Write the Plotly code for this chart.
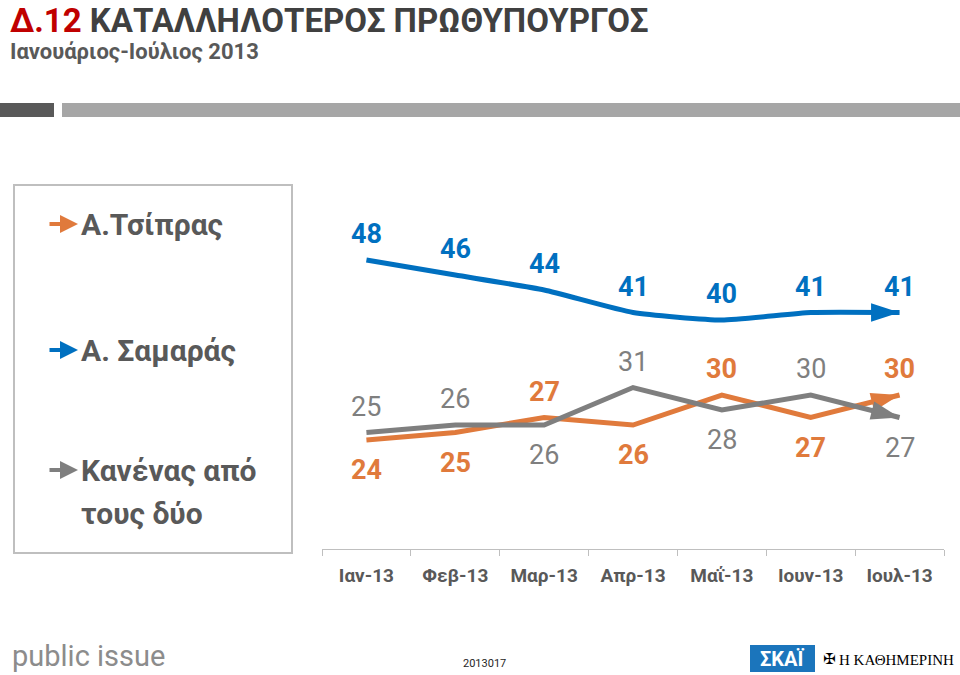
import plotly.graph_objects as go

# ---------------- data ----------------
months = ["Ιαν-13", "Φεβ-13", "Μαρ-13", "Απρ-13", "Μαΐ-13", "Ιουν-13", "Ιουλ-13"]
samaras = [48, 46, 44, 41, 40, 41, 41]
tsipras = [24, 25, 27, 26, 30, 27, 30]
neither = [25, 26, 26, 31, 28, 30, 27]

series_names = ["Α.Τσίπρας", "Α. Σαμαράς", "Κανένας από τους δύο"]

# label placement (+1 above, -1 below)
samaras_pos = [1, 1, 1, 1, 1, 1, 1]
tsipras_pos = [-1, -1, 1, -1, 1, -1, 1]
neither_pos = [1, 1, -1, 1, -1, 1, -1]

BLUE = "#0070c0"
ORANGE = "#e07a3c"
GREY = "#7f7f7f"
TXT = "#595959"
FONT = "Roboto"

W, H = 960, 675


def px(x):
    return x / W


def py(y):
    return 1 - y / H


fig = go.Figure()


def add_series(vals, color, name, shape="linear"):
    fig.add_trace(go.Scatter(
        x=months, y=vals, mode="lines", name=name,
        line=dict(color=color, width=5, shape=shape, smoothing=0.5),
        cliponaxis=False, showlegend=False, hoverinfo="skip",
    ))
    # arrow head at the last point, oriented along the last segment
    fig.add_trace(go.Scatter(
        x=months[-2:], y=vals[-2:], mode="markers",
        marker=dict(symbol="arrow", size=[0, 30], angleref="previous",
                    color=color, opacity=1, line=dict(width=0)),
        opacity=1,
        cliponaxis=False, showlegend=False, hoverinfo="skip",
    ))


add_series(samaras, BLUE, series_names[1], "spline")
add_series(tsipras, ORANGE, series_names[0])
add_series(neither, GREY, series_names[2])

annotations = []


def add_labels(vals, pos, color, bold):
    for m, v, p in zip(months, vals, pos):
        annotations.append(dict(
            x=m, y=v, xref="x", yref="y", text=(f"<b>{v}</b>" if bold else f"{v}"),
            showarrow=False, yshift=(26 if p > 0 else -30),
            font=dict(family=FONT, size=27, color=color),
            xanchor="center", yanchor="middle"))


add_labels(samaras, samaras_pos, BLUE, True)
add_labels(tsipras, tsipras_pos, ORANGE, True)
add_labels(neither, neither_pos, GREY, False)

# ---- legend (custom) ----
legend_rows = [
    (series_names[0], ORANGE, 224),
    (series_names[1], BLUE, 350),
    ("Κανένας από", GREY, 470),
]
for text, col, yy in legend_rows:
    annotations.append(dict(x=px(78), y=py(yy), xref="paper", yref="paper",
                            text="", showarrow=True, ax=-30, ay=0,
                            arrowhead=2, arrowsize=0.9, arrowwidth=4,
                            arrowcolor=col))
    annotations.append(dict(x=px(79), y=py(yy), xref="paper", yref="paper",
                            text=f"<b>{text}</b>", showarrow=False, xanchor="left",
                            yanchor="middle",
                            font=dict(family=FONT, size=30, color=TXT)))
annotations.append(dict(x=px(79), y=py(513), xref="paper", yref="paper",
                        text="<b>τους δύο</b>", showarrow=False, xanchor="left",
                        yanchor="middle",
                        font=dict(family=FONT, size=30, color=TXT)))

# ---- title ----
annotations.append(dict(x=px(8), y=py(20), xref="paper", yref="paper",
                        text="<b><span style='color:#c00000'>Δ.12</span> ΚΑΤΑΛΛΗΛΟΤΕΡΟΣ ΠΡΩΘΥΠΟΥΡΓΟΣ</b>",
                        showarrow=False, xanchor="left", yanchor="middle",
                        font=dict(family=FONT, size=33, color="#404040")))
annotations.append(dict(x=px(8), y=py(51), xref="paper", yref="paper",
                        text="<b>Ιανουάριος-Ιούλιος 2013</b>",
                        showarrow=False, xanchor="left", yanchor="middle",
                        font=dict(family=FONT, size=22, color=TXT)))

# ---- footer ----
annotations.append(dict(x=px(10), y=py(656), xref="paper", yref="paper",
                        text="public issue", showarrow=False, xanchor="left",
                        yanchor="middle",
                        font=dict(family=FONT, size=29, color="#8c8c8c")))
annotations.append(dict(x=px(484), y=py(663), xref="paper", yref="paper",
                        text="2013017", showarrow=False, xanchor="center",
                        yanchor="middle",
                        font=dict(family=FONT, size=11, color="#262626")))
annotations.append(dict(x=px(782), y=py(659), xref="paper", yref="paper",
                        text="<b>ΣΚΑΪ</b>", showarrow=False, xanchor="center",
                        yanchor="middle",
                        font=dict(family=FONT, size=20, color="white")))
annotations.append(dict(x=px(829), y=py(659), xref="paper", yref="paper",
                        text="✠", showarrow=False, xanchor="center",
                        yanchor="middle",
                        font=dict(family="DejaVu Sans", size=15, color="black")))
annotations.append(dict(x=px(837), y=py(660), xref="paper", yref="paper",
                        text="Η ΚΑΘΗΜΕΡΙΝΗ", showarrow=False, xanchor="left",
                        yanchor="middle",
                        font=dict(family="Liberation Serif", size=15, color="black")))

shapes = [
    dict(type="rect", xref="paper", yref="paper", x0=px(0), x1=px(54),
         y0=py(117), y1=py(103), fillcolor="#595959", line=dict(width=0)),
    dict(type="rect", xref="paper", yref="paper", x0=px(62), x1=px(960),
         y0=py(117), y1=py(103), fillcolor="#a6a6a6", line=dict(width=0)),
    dict(type="rect", xref="paper", yref="paper", x0=px(14), x1=px(292),
         y0=py(553), y1=py(185), fillcolor="rgba(0,0,0,0)",
         line=dict(color="#bfbfbf", width=2)),
    dict(type="rect", xref="paper", yref="paper", x0=px(750), x1=px(815),
         y0=py(672), y1=py(645), fillcolor="#1b75bc", line=dict(width=0)),
]

fig.update_layout(
    width=W, height=H, autosize=False,
    margin=dict(l=0, r=0, t=0, b=0),
    paper_bgcolor="white", plot_bgcolor="white",
    annotations=annotations, shapes=shapes,
    xaxis=dict(domain=[px(322), px(944)], range=[-0.5, 6.5],
               type="category", showgrid=False, zeroline=False,
               showline=True, linecolor="#bfbfbf", linewidth=1,
               ticks="outside", tickson="boundaries", ticklen=6,
               tickcolor="#bfbfbf",
               tickfont=dict(family=FONT, size=19, color=TXT),
               tickprefix="<b>", ticksuffix="</b>",
               ticklabelstandoff=9),
    yaxis=dict(domain=[py(549), py(245)], range=[9.47, 50],
               visible=False, showgrid=False, zeroline=False),
)

fig.write_html("out.html", config={"displayModeBar": False},
               post_script="document.body.style.margin='0';document.body.style.padding='0';")
